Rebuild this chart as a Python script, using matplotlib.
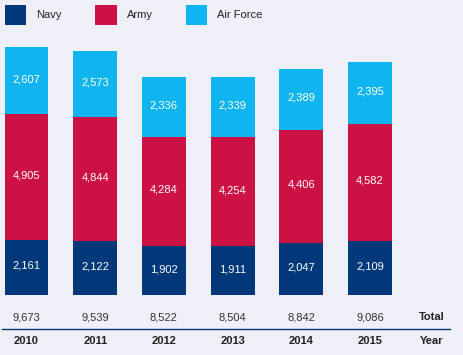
import numpy as np
import matplotlib
matplotlib.use("Agg")
import matplotlib.pyplot as plt
from matplotlib.patches import Rectangle
import matplotlib.transforms as mtransforms

plt.rcParams['font.family'] = ['Liberation Sans', 'DejaVu Sans']

years = ["2010", "2011", "2012", "2013", "2014", "2015"]
navy = [2161, 2122, 1902, 1911, 2047, 2109]
army = [4905, 4844, 4284, 4254, 4406, 4582]
air_force = [2607, 2573, 2336, 2339, 2389, 2395]
totals = [9673, 9539, 8522, 8504, 8842, 9086]
series_names = ["Navy", "Army", "Air Force"]

bg = "#EFEFF7"
c_navy = "#00387A"
c_army = "#CC1144"
c_air = "#10B4EE"
colors = [c_navy, c_army, c_air]

W, H = 464, 355
fig = plt.figure(figsize=(W / 100, H / 100), dpi=100, facecolor=bg)
ax = fig.add_axes([0, 0, 1, 1])
ax.set_facecolor(bg)

# pixel geometry of the reference
pitch = 68.7
x0 = 26.5
base = 60          # px from bottom
scale = 0.0256     # px per unit
ax.set_xlim(-x0 / pitch, (W - x0) / pitch)
ax.set_ylim(-base / scale, (H - base) / scale)
ax.axis("off")

x = np.arange(len(years))
bottom = np.zeros(len(years))
for vals, col in zip([navy, army, air_force], colors):
    vals = np.array(vals)
    ax.bar(x, vals, 0.64, bottom=bottom, color=col, edgecolor="none")
    for xi, b, v in zip(x, bottom, vals):
        ax.text(xi, b + v / 2 + 60, f"{v:,}", ha="center", va="center",
                color="white", fontsize=8)
    bottom += vals

tr = mtransforms.blended_transform_factory(ax.transData, fig.transFigure)
for xi, t, yr in zip(x, totals, years):
    ax.text(xi, 38 / H, f"{t:,}", transform=tr, ha="center", va="center",
            color="#333333", fontsize=8)
    ax.text(xi, 14 / H, yr, transform=tr, ha="center", va="center",
            color="#222222", fontsize=8, fontweight="bold")

fig.text(432 / W, 38 / H, "Total", ha="center", va="center",
         color="#222222", fontsize=8, fontweight="bold")
fig.text(432 / W, 14 / H, "Year", ha="center", va="center",
         color="#222222", fontsize=8, fontweight="bold")
fig.add_artist(plt.Line2D([2 / W, 450 / W], [26 / H, 26 / H], color=c_navy, lw=1))

# legend
for i, (name, col) in enumerate(zip(series_names, colors)):
    lx = 5 + i * 90.5
    fig.add_artist(Rectangle((lx / W, (H - 25) / H), 21 / W, 20 / H,
                             transform=fig.transFigure, color=col, lw=0))
    fig.text((lx + 31) / W, (H - 15) / H, name, ha="left", va="center",
             color="#222222", fontsize=8)

fig.savefig("out.png", dpi=100, facecolor=bg)
